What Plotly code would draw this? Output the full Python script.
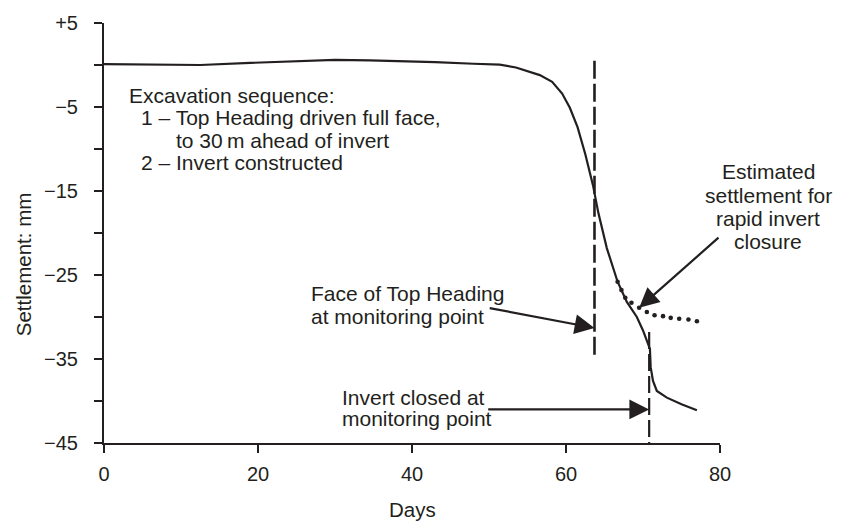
import plotly.graph_objects as go

# Monitoring record: settlement (mm) against elapsed days
days = [0, 6, 12.5, 19, 25.5, 30, 34.5, 39, 43, 48, 51.4, 53.5, 55.3, 56.6, 58.2, 59.5,
        60.5, 61.5, 62.5, 63.5, 64.2, 65.3, 66.7, 67.9, 69.2, 70.0, 70.9, 71.0, 71.3,
        71.8, 73.1, 75.0, 77.0]
settlement = [0.1, 0.05, 0.0, 0.25, 0.5, 0.6, 0.55, 0.45, 0.35, 0.15, 0.05, -0.3, -0.8,
              -1.2, -2.0, -3.4, -5.1, -7.4, -10.6, -14.3, -17.6, -21.8, -25.8, -28.2,
              -30.0, -31.6, -33.8, -36.0, -37.6, -38.8, -39.6, -40.4, -41.1]

# Estimated settlement had the invert been closed rapidly
est_days = [66.7, 67.2, 67.7, 68.5, 69.5, 70.5, 71.5, 72.6, 73.6, 74.7, 75.9, 77.0]
est_settlement = [-25.8, -26.8, -27.7, -28.3, -28.9, -29.4, -29.8, -29.9, -30.1, -30.2,
                  -30.3, -30.5]

# Event markers (day) and the settlement span each vertical line covers
face_day = 63.7
face_span = [0.5, -35.1]
invert_day = 70.8
invert_span = [-31.8, -45.0]

# Axis ticks
x_ticks = [0, 20, 40, 60, 80]
y_ticks = [5, 0, -5, -10, -15, -20, -25, -30, -35, -40, -45]
y_tick_text = ["+5", "", "\u22125", "", "\u221215", "", "\u221225", "", "\u221235", "",
               "\u221245"]

INK = "#231f20"
FONT = "Liberation Sans, Arial, Helvetica, sans-serif"
FS_TICK = 20
FS_TEXT = 21

fig = go.Figure()

fig.add_trace(go.Scatter(x=days, y=settlement, mode="lines",
                         line=dict(color=INK, width=2.2), hoverinfo="skip"))
fig.add_trace(go.Scatter(x=est_days, y=est_settlement, mode="markers",
                         marker=dict(color=INK, size=4.6, line=dict(width=0)),
                         hoverinfo="skip"))
fig.add_trace(go.Scatter(x=[face_day, face_day], y=face_span, mode="lines",
                         line=dict(color=INK, width=2.6, dash="18px,5px"),
                         hoverinfo="skip"))
fig.add_trace(go.Scatter(x=[invert_day, invert_day], y=invert_span, mode="lines",
                         line=dict(color=INK, width=2.2, dash="17px,5px"),
                         hoverinfo="skip"))

# Arrows: (tail day, tail mm) -> (tip day, tip mm)
arrows = [
    ((49.9, -28.9), (face_day, -31.3)),
    ((49.7, -41.0), (invert_day, -41.0)),
    ((80.0, -20.4), (69.5, -28.9)),
]
for (tx, ty), (hx, hy) in arrows:
    fig.add_annotation(x=hx, y=hy, ax=tx, ay=ty, xref="x", yref="y", axref="x", ayref="y",
                       text="", showarrow=True, arrowhead=2, arrowsize=1.8,
                       arrowwidth=2.2, arrowcolor=INK, standoff=0, startstandoff=0)

# Text blocks, one annotation per line (paper coordinates)
left_lines = [
    ("Excavation sequence:", 0.0369, 0.828),
    ("1 \u2013 Top Heading driven full face,", 0.0573, 0.774),
    ("to 30\u2009m ahead of invert", 0.1136, 0.721),
    ("2 \u2013 Invert constructed", 0.0573, 0.669),
    ("Face of Top Heading", 0.3333, 0.3558),
    ("at monitoring point", 0.3333, 0.3016),
    ("Invert closed at", 0.3831, 0.1093),
    ("monitoring point", 0.3831, 0.0574),
]
for txt, xp, yp in left_lines:
    fig.add_annotation(x=xp, y=yp, xref="paper", yref="paper", text=txt, showarrow=False,
                       xanchor="left", yanchor="middle",
                       font=dict(family=FONT, size=FS_TEXT, color=INK))

centre_lines = [
    ("Estimated", 0.6465),
    ("settlement for", 0.5884),
    ("rapid invert", 0.5349),
    ("closure", 0.4791),
]
for txt, yp in centre_lines:
    fig.add_annotation(x=1.078, y=yp, xref="paper", yref="paper", text=txt,
                       showarrow=False, xanchor="center", yanchor="middle",
                       font=dict(family=FONT, size=FS_TEXT, color=INK))

# Axis titles
fig.add_annotation(x=0.5, y=-0.158, xref="paper", yref="paper", text="Days",
                   showarrow=False, xanchor="center", yanchor="middle",
                   font=dict(family=FONT, size=20.5, color=INK))
fig.add_annotation(x=-0.1315, y=0.4256, xref="paper", yref="paper", text="Settlement: mm",
                   showarrow=False, textangle=-90, xanchor="center", yanchor="middle",
                   font=dict(family=FONT, size=20.5, color=INK))

fig.update_xaxes(range=[0, 80], tickvals=x_ticks, ticks="outside", ticklen=8, tickwidth=2,
                 tickcolor=INK, showline=True, linewidth=2, linecolor=INK, showgrid=False,
                 zeroline=False, ticklabelstandoff=4,
                 tickfont=dict(family=FONT, size=FS_TICK, color=INK))
fig.update_yaxes(range=[-45, 5], tickvals=y_ticks, ticktext=y_tick_text, ticks="outside",
                 ticklen=8, tickwidth=2, tickcolor=INK, showline=True, linewidth=2,
                 linecolor=INK, showgrid=False, zeroline=False, ticklabelstandoff=12,
                 tickfont=dict(family=FONT, size=FS_TICK, color=INK))

fig.update_layout(width=842, height=526, margin=dict(l=104, r=122, t=13, b=83),
                  paper_bgcolor="white", plot_bgcolor="white", showlegend=False)

fig.write_html("out.html")
